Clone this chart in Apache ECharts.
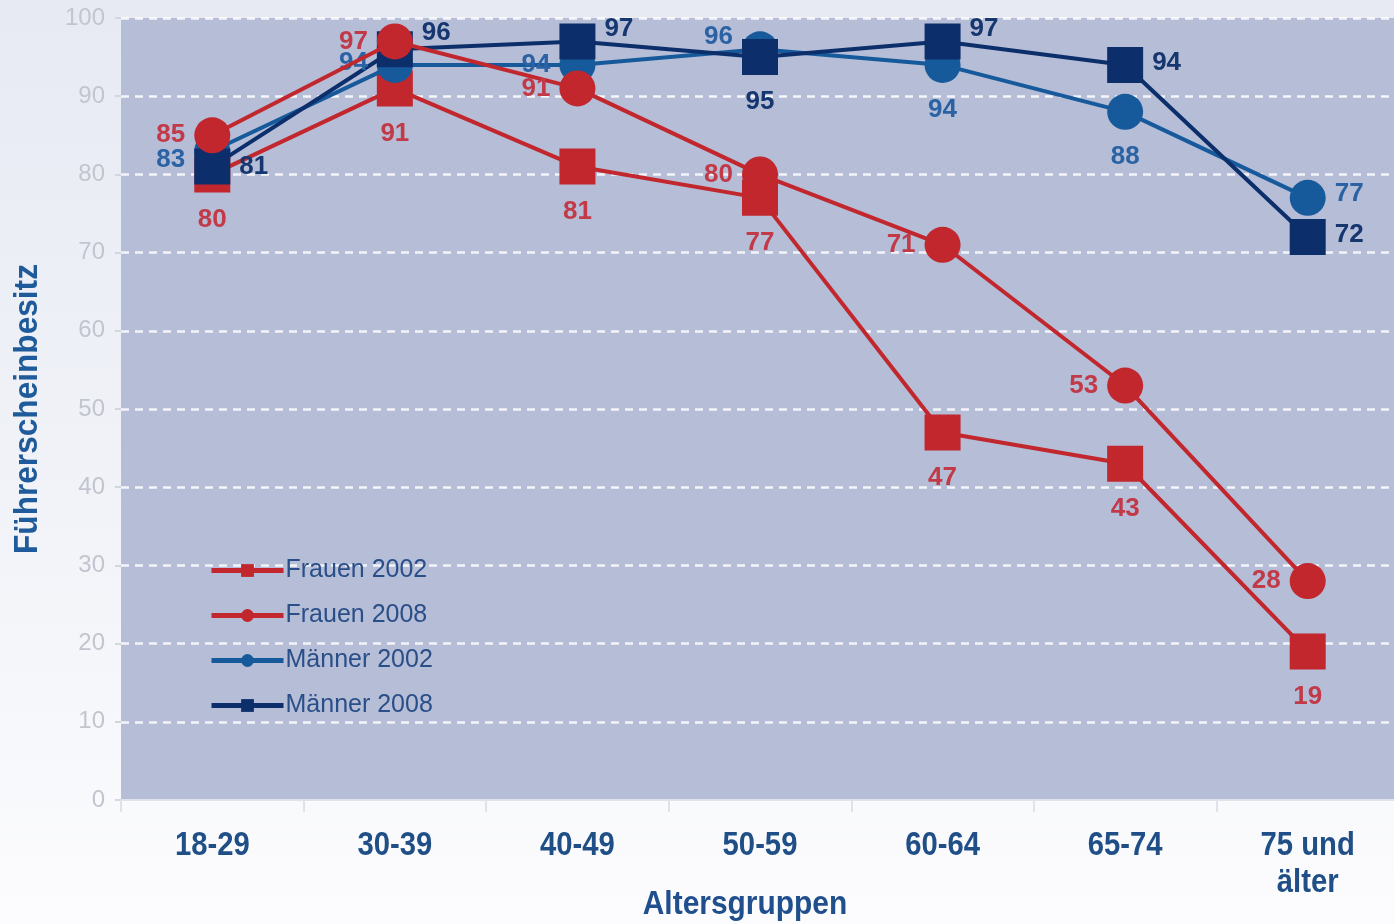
<!DOCTYPE html>
<html>
<head>
<meta charset="utf-8">
<script src="https://cdn.jsdelivr.net/npm/echarts@6/dist/echarts.min.js"></script>
<style>
  html, body { margin: 0; padding: 0; }
  body { background: linear-gradient(180deg, #e7eaf3 0%, #f1f3f8 55%, #fcfcfe 100%); }
  #chart { width: 1394px; height: 924px; }
</style>
</head>
<body>
<div id="chart"></div>
<script>
// Altersgruppen
const categories = ['18-29', '30-39', '40-49', '50-59', '60-64', '65-74', '75 und\nälter'];

// Führerscheinbesitz in %
const frauen2002 = [80, 91, 81, 77, 47, 43, 19];
const frauen2008 = [85, 97, 91, 80, 71, 53, 28];
const maenner2002 = [83, 94, 94, 96, 94, 88, 77];
const maenner2008 = [81, 96, 97, 95, 97, 94, 72];

const yTicks = { min: 0, max: 100, interval: 10 };

const xTitle = 'Altersgruppen';
const yTitle = 'Führerscheinbesitz';

// where each value label sits relative to its marker
const placeFrauen2002 = ['bottom', 'bottom', 'bottom', 'bottom', 'bottom', 'bottom', 'bottom'];
const placeFrauen2008 = ['left', 'left', 'left', 'left', 'left', 'left', 'left'];
const placeMaenner2002 = ['left', 'left', 'left', 'left', 'bottom', 'bottom', 'right'];
const placeMaenner2008 = ['right', 'right', 'right', 'bottom', 'right', 'right', 'right'];
// small vertical nudges for crowded labels
const nudgeMaenner2002 = [9, -2, 0, -12, 0, 0, -4];
const nudgeMaenner2008 = [0, -16, -13, 0, -13, -2, -2];

const RED = '#c1272d';
const BLUE = '#175a9c';
const NAVY = '#0c2f6b';
const AXIS_TEXT = '#1f4f86';

function points(values, places, nudges, labelColor) {
  return values.map((v, i) => {
    const pos = places[i];
    const dy = nudges ? nudges[i] : 0;
    return {
      value: v,
      label: {
        position: pos,
        distance: pos === 'bottom' ? 14 : 9,
        offset: [0, dy],
        color: labelColor
      }
    };
  });
}

function lineSeries(name, values, places, nudges, color, labelColor, symbol, z) {
  return {
    name: name,
    type: 'line',
    data: points(values, places, nudges, labelColor),
    symbol: symbol,
    symbolSize: 36,
    z: z,
    lineStyle: { color: color, width: 4 },
    itemStyle: { color: color },
    label: {
      show: true,
      fontFamily: 'Liberation Sans',
      fontWeight: 'bold',
      fontSize: 26
    },
    emphasis: { disabled: true },
    animation: false
  };
}

const chart = echarts.init(document.getElementById('chart'), null, { renderer: 'canvas' });

chart.setOption({
  backgroundColor: 'transparent',
  textStyle: { fontFamily: 'Liberation Sans' },
  grid: {
    left: 121,
    top: 18,
    width: 1278,
    height: 782,
    outerBoundsMode: 'none',
    containLabel: false,
    show: true,
    backgroundColor: '#b5bdd7',
    borderWidth: 0
  },
  legend: {
    orient: 'vertical',
    left: 204,
    top: 553,
    itemWidth: 72,
    itemHeight: 16,
    itemGap: 20,
    data: ['Frauen 2002', 'Frauen 2008', 'Männer 2002', 'Männer 2008'],
    lineStyle: { width: 5 },
    textStyle: {
      color: '#2a4f88',
      fontSize: 25,
      fontFamily: 'Liberation Sans',
      padding: [0, 0, 0, -3]
    },
    selectedMode: false
  },
  xAxis: {
    type: 'category',
    data: categories,
    boundaryGap: true,
    axisLine: { show: true, lineStyle: { color: '#dfe2ea', width: 2 } },
    axisTick: { show: true, length: 12, lineStyle: { color: '#dfe2ea', width: 2 } },
    // category names are drawn below as condensed text at the axis positions
    axisLabel: { show: false },
    splitLine: { show: false }
  },
  yAxis: {
    type: 'value',
    min: yTicks.min,
    max: yTicks.max,
    interval: yTicks.interval,
    axisLine: { show: false },
    axisTick: { show: true, length: 6, lineStyle: { color: '#d3d6df', width: 2 } },
    axisLabel: {
      color: '#c2c5cf',
      fontSize: 24,
      fontFamily: 'Liberation Sans',
      margin: 16
    },
    splitLine: {
      show: true,
      lineStyle: { color: 'rgba(255,255,255,0.85)', width: 2.5, type: [8, 6] }
    }
  },
  series: [
    lineSeries('Frauen 2002', frauen2002, placeFrauen2002, null, RED, '#c23a48', 'rect', 3),
    lineSeries('Frauen 2008', frauen2008, placeFrauen2008, null, RED, '#c23a48', 'circle', 5),
    lineSeries('Männer 2002', maenner2002, placeMaenner2002, nudgeMaenner2002, BLUE, '#2a62a4', 'circle', 4),
    lineSeries('Männer 2008', maenner2008, placeMaenner2008, nudgeMaenner2008, NAVY, '#15366f', 'rect', 4)
  ]
});

// Condensed bold captions: category names placed at the x-axis positions, plus axis titles
const axisBottom = chart.convertToPixel({ yAxisIndex: 0 }, yTicks.min);
const axisTop = chart.convertToPixel({ yAxisIndex: 0 }, yTicks.max);
const captionFont = 'bold 34px "Liberation Sans"';

const captions = categories.map((name, i) => ({
  type: 'text',
  x: chart.convertToPixel({ xAxisIndex: 0 }, i),
  y: axisBottom + 27,
  scaleX: 0.86,
  silent: true,
  style: {
    text: name,
    font: captionFont,
    fill: AXIS_TEXT,
    align: 'center',
    verticalAlign: 'top',
    lineHeight: 37
  }
}));

captions.push({
  type: 'text',
  x: 745,
  y: axisBottom + 105,
  scaleX: 0.88,
  silent: true,
  style: {
    text: xTitle,
    font: captionFont,
    fill: '#1f4f8c',
    align: 'center',
    verticalAlign: 'middle'
  }
});

captions.push({
  type: 'text',
  x: 28,
  y: (axisTop + axisBottom) / 2,
  rotation: Math.PI / 2,
  scaleX: 0.93,
  silent: true,
  style: {
    text: yTitle,
    font: captionFont,
    fill: '#1f5a9a',
    align: 'center',
    verticalAlign: 'middle'
  }
});

chart.setOption({ graphic: captions });
</script>
</body>
</html>
